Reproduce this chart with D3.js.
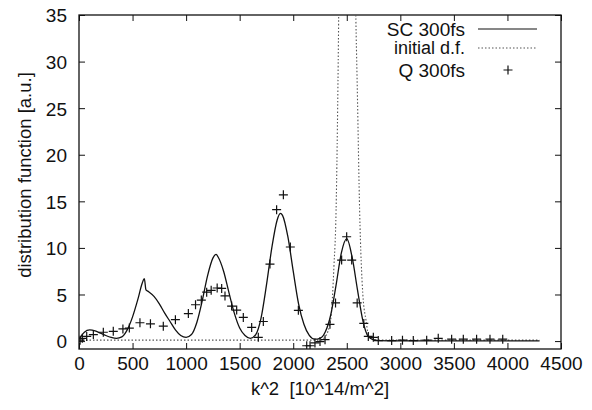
<!DOCTYPE html>
<html>
<head>
<meta charset="utf-8">
<script src="https://cdn.jsdelivr.net/npm/d3@7"></script>
<style>
  html, body { margin: 0; padding: 0; background: #fff; }
  svg { display: block; }
  text { font-family: "Liberation Sans", Arial, Helvetica, sans-serif; fill: #111; }
</style>
</head>
<body>
<svg id="chart" width="592" height="410"></svg>
<script>
// ---- data ----
const xTicks = [0, 500, 1000, 1500, 2000, 2500, 3000, 3500, 4000, 4500];
const yTicks = [0, 5, 10, 15, 20, 25, 30, 35];

const scX = [0, 25, 50, 100, 150, 200, 250, 300, 350, 400, 450, 500, 550, 590, 610, 625, 650, 700, 750, 800, 850, 900, 950, 1000,
  1050, 1100, 1150, 1200, 1250, 1280, 1300, 1350, 1400, 1450, 1500, 1550, 1600, 1650, 1700, 1750, 1800, 1850, 1880, 1900,
  1950, 2000, 2050, 2100, 2150, 2200, 2250, 2300, 2350, 2400, 2450, 2500, 2550, 2600, 2650, 2700, 2750, 2800, 3000, 3500, 4000, 4300];
const scY = [0.2, 0.6, 0.95, 1.2, 1.1, 0.85, 0.6, 0.4, 0.3, 0.45, 1.2, 2.6, 4.5, 6.2, 6.7, 5.5, 5.3, 4.8, 4.0, 3.0, 2.1, 1.2, 0.6, 0.4,
  0.7, 2.0, 4.3, 7.0, 8.9, 9.3, 9.0, 7.5, 5.2, 3.0, 1.4, 0.6, 0.3, 0.7, 2.5, 6.0, 10.0, 13.0, 13.7, 13.5,
  11.2, 7.5, 4.0, 1.8, 0.6, 0.2, 0.3, 1.0, 2.8, 6.0, 9.5, 11.0, 9.0, 5.5, 2.2, 0.5, 0.15, 0.05, 0.02, 0.02, 0.02, 0.02];

const initX = [0, 500, 1000, 1500, 2000, 2250, 2300, 2350, 2380, 2400, 2420, 2450, 2500, 2550, 2580, 2600, 2620, 2650, 2680, 2700, 2750, 2800, 3500, 4300];
const initY = [0.1, 0.1, 0.1, 0.1, 0.1, 0.1, 0.5, 2.3, 8, 14, 30, 70, 100, 70, 38, 26, 14, 5, 2.2, 0.8, 0.15, 0.1, 0.1, 0.1];

const qX = [10, 31, 72, 134, 227, 320, 410, 470, 569, 667, 787, 900, 1021, 1088, 1142, 1192, 1234, 1290, 1332, 1363, 1425, 1472,
  1534, 1612, 1674, 1721, 1783, 1845, 1908, 1973, 2048, 2126, 2157, 2203, 2250, 2297, 2343, 2395, 2452, 2499, 2546, 2597, 2659,
  2701, 2748, 2794, 2919, 3020, 3121, 3246, 3354, 3479, 3588, 3712, 3837, 3956];
const qY = [0.1, 0.3, 0.5, 0.7, 0.95, 1.05, 1.3, 1.4, 1.97, 1.85, 1.6, 2.3, 2.95, 3.9, 4.4, 5.25, 5.45, 5.7, 5.65, 4.85, 3.76, 3.33,
  2.54, 1.47, 0.4, 2.1, 8.27, 14.1, 15.7, 10.1, 3.3, -0.5, -0.5, -0.2, -0.05, 0.15, 1.8, 4.1, 8.7, 11.2, 8.7, 4.1, 1.9,
  0.5, 0.4, 0.05, 0.05, 0.1, 0.05, 0.1, 0.3, 0.2, 0.2, 0.2, 0.2, 0.2];

const legendLabels = ["SC 300fs", "initial d.f.", "Q 300fs"];

// ---- layout ----
const L = 79, R = 561, T = 15, B = 349;
const svg = d3.select("#chart");
const x = d3.scaleLinear().domain([0, 4500]).range([L, R]);
const y = d3.scaleLinear().domain([-0.85, 35]).range([B, T]);

svg.append("defs").append("clipPath").attr("id", "clip")
  .append("rect").attr("x", L).attr("y", T).attr("width", R - L).attr("height", B - T);

// axes (ticks inward, mirrored)
const fs = "19px";
const gB = svg.append("g").attr("transform", `translate(0,${B})`)
  .call(d3.axisBottom(x).tickValues(xTicks).tickSize(-6).tickPadding(21).tickFormat(d3.format("d")));
const gT = svg.append("g").attr("transform", `translate(0,${T})`)
  .call(d3.axisTop(x).tickValues(xTicks).tickSize(-6).tickFormat(""));
const gL = svg.append("g").attr("transform", `translate(${L},0)`)
  .call(d3.axisLeft(y).tickValues(yTicks).tickSize(-6).tickPadding(12).tickFormat(d3.format("d")));
const gR = svg.append("g").attr("transform", `translate(${R},0)`)
  .call(d3.axisRight(y).tickValues(yTicks).tickSize(-6).tickFormat(""));
[gB, gT, gL, gR].forEach(g => {
  g.select(".domain").remove();
  g.selectAll(".tick line").attr("stroke", "#111").attr("stroke-width", 1);
  g.selectAll("text").style("font-size", fs).attr("fill", "#111")
    .style("font-family", '"Liberation Sans", Arial, sans-serif');
});
gB.selectAll(".tick text").attr("dy", "0");
gL.selectAll(".tick text").attr("dy", "0.36em");

// frame
svg.append("rect").attr("x", L).attr("y", T).attr("width", R - L).attr("height", B - T)
  .attr("fill", "none").attr("stroke", "#111").attr("stroke-width", 1.3);

const plot = svg.append("g").attr("clip-path", "url(#clip)");

// initial d.f. (dotted)
const initData = initX.map((v, i) => [v, initY[i]]);
plot.append("path").datum(initData)
  .attr("fill", "none").attr("stroke", "#555").attr("stroke-width", 1.1)
  .attr("stroke-dasharray", "1.5,2")
  .attr("d", d3.line().x(d => x(d[0])).y(d => y(d[1])).curve(d3.curveMonotoneX));

// SC 300fs (solid)
const scData = scX.map((v, i) => [v, scY[i]]);
plot.append("path").datum(scData)
  .attr("fill", "none").attr("stroke", "#111").attr("stroke-width", 1.3)
  .attr("d", d3.line().x(d => x(d[0])).y(d => y(d[1])).curve(d3.curveMonotoneX));

// Q 300fs (plus markers)
const ps = 4.5;
const qData = qX.map((v, i) => [v, qY[i]]);
plot.selectAll("path.q").data(qData).enter().append("path").attr("class", "q")
  .attr("fill", "none").attr("stroke", "#111").attr("stroke-width", 1.2)
  .attr("d", d => {
    const cx = x(d[0]), cy = y(d[1]);
    return `M${cx - ps},${cy}H${cx + ps}M${cx},${cy - ps}V${cy + ps}`;
  });

// axis titles
svg.append("text").attr("x", (L + R) / 2).attr("y", 395).attr("text-anchor", "middle")
  .style("font-size", "18.5px").style("white-space", "pre").text("k^2  [10^14/m^2]");
svg.append("text").attr("transform", "translate(31,175) rotate(-90)").attr("text-anchor", "middle")
  .style("font-size", "18.5px").text("distribution function [a.u.]");

// legend
const lgY = [29, 48, 70];
const lg = svg.append("g");
legendLabels.forEach((t, i) => {
  lg.append("text").attr("x", 465).attr("y", lgY[i]).attr("dy", "0.35em").attr("text-anchor", "end")
    .style("font-size", i === 1 ? "18px" : "19px").text(t);
});
lg.append("line").attr("x1", 478).attr("x2", 537).attr("y1", lgY[0]).attr("y2", lgY[0])
  .attr("stroke", "#111").attr("stroke-width", 1.2);
lg.append("line").attr("x1", 478).attr("x2", 537).attr("y1", lgY[1]).attr("y2", lgY[1])
  .attr("stroke", "#555").attr("stroke-width", 1.1).attr("stroke-dasharray", "1.5,2");
lg.append("path").attr("fill", "none").attr("stroke", "#111").attr("stroke-width", 1.2)
  .attr("d", `M${508 - ps},${lgY[2]}H${508 + ps}M508,${lgY[2] - ps}V${lgY[2] + ps}`);
</script>
</body>
</html>
